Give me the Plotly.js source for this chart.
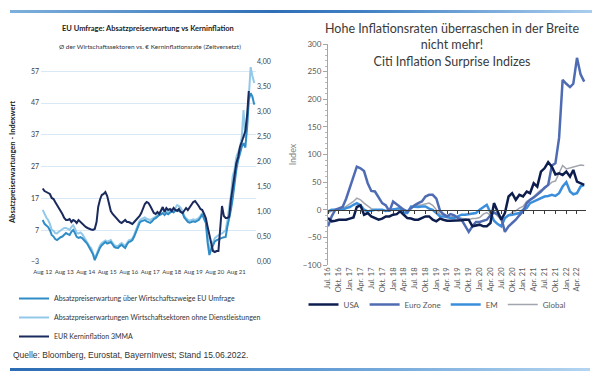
<!DOCTYPE html>
<html>
<head>
<meta charset="utf-8">
<script src="https://cdn.plot.ly/plotly-3.0.1.min.js"></script>
<style>
  html, body { margin:0; padding:0; background:#fff; }
  #wrap { position:relative; width:600px; height:378px; overflow:hidden; }
  #chart { position:absolute; left:0; top:0; width:600px; height:378px; }
  .bar { position:absolute; height:3px; pointer-events:none; }
</style>
</head>
<body>
<div id="wrap">
  <div id="chart"></div>
  <div class="bar" style="left:10px; top:10px; width:582px; background:linear-gradient(to right,#7fb0dc,#2f6fb6 45%,#3f7fc2 60%,#a9cdee);"></div>
  <div class="bar" style="left:10px; top:368px; width:580px; background:linear-gradient(to right,#2c6cb4,#5d98d2 50%,#b3d5f1);"></div>
</div>
<script>
// ---------- Left chart: EU Umfrage (monthly from Aug 2012) ----------
const leftStart = [2012, 8];
const umfrageAlle = [
  10.2, 9.0, 8.5, 8.0, 7.0, 5.5, 5.0, 4.2, 3.9, 4.5,
  4.8, 5.0, 5.6, 6.1, 5.8, 5.5, 6.5, 7.1, 6.0, 4.9,
  4.6, 4.8, 4.5, 4.0, 3.3, 2.6, 1.5, 0.8, -0.5, -2.4,
  -1.0, 0.1, 1.5, 2.3, 2.8, 3.3, 2.8, 3.0, 3.3, 2.5,
  1.7, 1.5, 1.4, 2.0, 2.4, 1.9, 1.4, 2.5, 3.3, 3.5,
  3.9, 5.0, 6.4, 8.0, 9.3, 9.8, 10.0, 10.2, 9.8, 9.5,
  9.3, 9.8, 10.5, 10.8, 11.3, 11.8, 12.0, 12.4, 11.8, 12.4,
  12.0, 12.6, 13.0, 12.6, 13.2, 13.4, 13.0, 12.7, 12.4, 11.0,
  10.2, 9.6, 9.4, 9.6, 9.8, 9.6, 9.8, 10.2, 11.0, 12.0,
  10.5, 9.3, 3.0, -0.8, 1.0, 2.3, 3.5, 3.9, 4.2, 4.5,
  4.6, 4.8, 4.9, 8.0, 10.5, 13.4, 17.0, 21.8, 26.0, 29.0,
  31.5, 33.2, 34.4, 33.0, 39.5, 48.0, 50.1, 49.0, 46.5
];
const umfrageOhneDL = [
  13.4, 12.0, 11.0, 10.2, 9.0, 7.1, 6.8, 6.1, 6.0, 6.5,
  7.0, 7.5, 7.7, 7.7, 7.4, 7.1, 8.0, 8.6, 7.5, 6.1,
  6.0, 6.3, 5.8, 5.0, 3.9, 3.0, 2.0, 1.4, 0.0, -2.0,
  -0.5, 0.8, 2.3, 3.0, 3.5, 3.8, 3.4, 3.6, 3.9, 3.0,
  2.3, 2.0, 2.0, 2.6, 3.0, 2.5, 2.0, 3.0, 3.8, 4.0,
  4.4, 5.6, 7.0, 8.6, 10.0, 10.5, 10.8, 11.0, 10.6, 10.4,
  10.2, 10.6, 11.0, 11.2, 11.6, 12.4, 13.0, 14.0, 12.8, 13.0,
  12.6, 13.4, 13.6, 13.2, 14.0, 14.9, 14.6, 14.0, 13.0, 11.5,
  10.8, 10.2, 10.0, 10.2, 10.4, 10.2, 10.4, 10.8, 11.5, 12.4,
  11.0, 10.0, 5.0, 0.8, 2.0, 3.5, 4.5, 5.0, 5.5, 5.8,
  6.0, 6.5, 7.0, 10.0, 13.5, 18.0, 24.0, 26.0, 30.0, 31.3,
  33.0, 36.3, 44.8, 36.0, 41.6, 49.0, 58.3, 55.5, 53.3
];
const kerninflation = [
  1.47, 1.42, 1.40, 1.38, 1.36, 1.28, 1.26, 1.20, 1.14, 1.10,
  1.02, 0.96, 0.88, 0.84, 0.84, 0.86, 0.80, 0.84, 0.82, 0.78,
  0.84, 0.80, 0.76, 0.72, 0.70, 0.68, 0.66, 0.65, 0.64, 0.66,
  0.80, 1.10, 1.25, 1.34, 1.36, 1.40, 1.32, 1.15, 1.02, 0.96,
  0.92, 0.88, 0.84, 0.80, 0.78, 0.82, 0.84, 0.80, 0.80, 0.78,
  0.76, 0.80, 0.84, 0.88, 0.92, 0.98, 1.06, 1.16, 1.20, 1.18,
  1.12, 1.04, 0.98, 0.96, 1.00, 0.96, 1.04, 1.10, 1.00, 1.08,
  1.04, 1.06, 1.02, 1.08, 1.04, 1.02, 1.06, 1.00, 0.98, 1.02,
  1.08, 1.04, 1.10, 1.16, 1.20, 1.22, 1.18, 1.12, 1.06, 1.04,
  0.96, 0.88, 0.70, 0.55, 0.35, 0.22, 0.20, 0.22, 0.22, 0.70,
  1.12, 0.92, 0.88, 0.88, 0.90, 1.25, 1.50, 1.82, 1.98, 2.10,
  2.30, 2.40, 2.52, 2.62, 2.95, 3.42
];
const leftTickLeft = [-3, 7, 17, 27, 37, 47, 57];
const leftTickRight = [0, 0.5, 1, 1.5, 2, 2.5, 3, 3.5, 4];

// ---------- Right chart: Citi Inflation Surprise (monthly from Jul 2016) ----------
const rightStart = [2016, 7];
const usa = [
  -15, -21, -20, -18, -18, -18, -16, -14, 5, 8,
  -9, -6, -12, -15, -18, -16, -12, -12, -9, -8,
  -3, -9, -15, -16, -18, -18, -15, -12, -12, -18,
  -21, -16, -18, -20, -20, -20, -20, -19, -18, -18,
  -30, -28, -27, -30, -30, -24, 12, -3, -18, -6,
  24, 30, 18, 27, 24, 33, 30, 48, 42, 69,
  75, 86, 78, 64, 66, 63, 69, 60, 72, 51, 48, 45
];
const euroZone = [
  -30, -12, 0, 2, 5, 20, 40, 58, 78, 75,
  70, 48, 34, 33, 22, 12, 8, -3, 15, 10,
  4, 0, -3, 3, 8, 12, 15, 24, 27, 27,
  20, -2, -8, -12, -8, -10, -15, -18, -30, -40,
  -30, -22, -22, -20, -18, -10, -5, -8, -15, -40,
  -30, -24, -18, -10, -3, 12, 18, 22, 27, 33,
  40, 45, 80, 84, 130, 235, 228, 222, 228, 275, 245, 232
];
const em = [
  -3, 0, 0, 0, 0, 3, 5, 9, 12, 8,
  0, -3, -1, 0, 0, 0, -2, -1, 0, 2,
  3, -6, -6, 6, 5, 5, 6, 6, 2, 0,
  -6, -12, -12, -14, -15, -15, -12, -9, -9, -8,
  -6, -6, 0, 5, 9, -5, -20, -26, -30, -15,
  -10, -9, -8, -6, 0, 3, 12, 15, 18, 22,
  24, 25, 27, 25, 30, 42, 50, 33, 28, 30, 42, 45
];
const globalIdx = [
  -5, -2, 0, 2, 3, 6, 10, 15, 21, 18,
  12, 6, 2, 0, -2, 0, -3, -2, 2, 2,
  0, -5, -6, 3, 6, 8, 9, 10, 12, 8,
  0, -8, -9, -12, -13, -12, -14, -15, -16, -18,
  -16, -16, -14, -8, -5, -10, -5, -12, -18, -16,
  -10, -5, -2, 3, 6, 15, 18, 24, 30, 36,
  38, 44, 50, 52, 66, 80, 74, 76, 78, 80, 81, 80
];
const rightTickVals = [
  '2016-07-01','2016-10-01','2017-01-01','2017-04-01','2017-07-01','2017-10-01',
  '2018-01-01','2018-04-01','2018-07-01','2018-10-01','2019-01-01','2019-04-01',
  '2019-07-01','2019-10-01','2020-01-01','2020-04-01','2020-07-01','2020-10-01',
  '2021-01-01','2021-04-01','2021-07-01','2021-10-01','2022-01-01','2022-04-01'
];
const rightTickText = [
  'Jul. 16','Okt. 16','Jan. 17','Apr. 17','Jul. 17','Okt. 17',
  'Jan. 18','Apr. 18','Jul. 18','Okt. 18','Jan. 19','Apr. 19',
  'Jul. 19','Okt. 19','Jan. 20','Apr. 20','Jul. 20','Okt. 20',
  'Jan. 21','Apr. 21','Jul. 21','Okt. 21','Jan. 22','Apr. 22'
];

function months(start, n) {
  const out = [];
  for (let i = 0; i < n; i++) {
    const t = start[0] * 12 + (start[1] - 1) + i;
    const y = Math.floor(t / 12), m = (t % 12) + 1;
    out.push(y + '-' + (m < 10 ? '0' : '') + m + '-01');
  }
  return out;
}

// pixel helpers for layout only
const W = 600, H = 378;
const px = v => v / W;
const py = v => 1 - v / H;

const lDom = [py(262), py(62)];
const rDom = [py(265), py(44)];
const rRange = [-100, 300];
const zeroPos = rDom[0] + (0 - rRange[0]) / (rRange[1] - rRange[0]) * (rDom[1] - rDom[0]);

const cMid = '#2f8cc6', cLight = '#93c9e8', cNavy = '#1b2a5c';
const cUSA = '#0d1d4e', cEZ = '#4f6cb3', cEM = '#3b8edb', cGL = '#a2a5ae';

const traces = [
  {x: months(leftStart, umfrageOhneDL.length), y: umfrageOhneDL, type:'scatter', mode:'lines',
   name:'Absatzpreiserwartungen Wirtschaftsektoren ohne Dienstleistungen', line:{color:cLight, width:2},
   xaxis:'x', yaxis:'y', legend:'legend', legendrank:2},
  {x: months(leftStart, umfrageAlle.length), y: umfrageAlle, type:'scatter', mode:'lines',
   name:'Absatzpreiserwartung über Wirtschaftszweige EU Umfrage', line:{color:cMid, width:2},
   xaxis:'x', yaxis:'y', legend:'legend', legendrank:1},
  {x: months(leftStart, kerninflation.length), y: kerninflation, type:'scatter', mode:'lines',
   name:'EUR Kerninflation 3MMA', line:{color:cNavy, width:2},
   xaxis:'x', yaxis:'y2', legend:'legend', legendrank:3},

  {x: months(rightStart, globalIdx.length), y: globalIdx, type:'scatter', mode:'lines',
   name:'Global', line:{color:cGL, width:1.5}, xaxis:'x2', yaxis:'y3', legend:'legend2', legendrank:4},
  {x: months(rightStart, em.length), y: em, type:'scatter', mode:'lines',
   name:'EM', line:{color:cEM, width:2.5}, xaxis:'x2', yaxis:'y3', legend:'legend2', legendrank:3},
  {x: months(rightStart, euroZone.length), y: euroZone, type:'scatter', mode:'lines',
   name:'Euro Zone', line:{color:cEZ, width:2.5}, xaxis:'x2', yaxis:'y3', legend:'legend2', legendrank:2},
  {x: months(rightStart, usa.length), y: usa, type:'scatter', mode:'lines',
   name:'USA', line:{color:cUSA, width:2.5}, xaxis:'x2', yaxis:'y3', legend:'legend2', legendrank:1},
  {x: [], y: [], type:'scatter', mode:'lines', xaxis:'x3', yaxis:'y3', showlegend:false, hoverinfo:'skip'}
];

const tickGray = '#404040';
const layout = {
  width: W, height: H,
  margin: {l:0, r:0, t:0, b:0},
  paper_bgcolor: '#fff', plot_bgcolor: 'rgba(0,0,0,0)',
  separators: ',.',
  font: {family: 'Lato, "Noto Sans", sans-serif', color: tickGray},
  title: {
    text: 'Hohe Inflationsraten überraschen in der Breite<br>nicht mehr!<br>Citi Inflation Surprise Indizes',
    font: {family: 'Lato, sans-serif', size: 12.5, color: '#3a3a3a'},
    x: px(452), xanchor: 'center', xref: 'paper',
    y: py(33), yanchor: 'top', yref: 'paper'
  },
  xaxis: {
    domain: [px(41), px(256)], anchor: 'y', type: 'date',
    range: ['2012-07-03', '2022-07-01'],
    tick0: '2012-08-01', dtick: 'M12', tickformat: '%b %y', tickangle: 0,
    ticklabelstandoff: 5,
    showgrid: false, zeroline: false, showline: false, ticks: '',
    tickfont: {size: 6, color: tickGray}
  },
  yaxis: {
    domain: lDom, anchor: 'x', range: [-3, 59.9],
    tickvals: leftTickLeft, showgrid: true, gridcolor: '#d8e8f4', gridwidth: 1,
    zeroline: false, showline: false, ticks: '', ticklabelstandoff: 1,
    tickfont: {size: 7, color: tickGray},
    title: {text: '<b>Absatzpreiserwartungen - Indexwert</b>', font: {size: 7.5, color: '#222'}, standoff: 14}
  },
  yaxis2: {
    overlaying: 'y', anchor: 'x', side: 'right', range: [0, 4],
    tickvals: leftTickRight, tickformat: '.2f',
    showgrid: false, zeroline: false, showline: false, ticks: '',
    tickfont: {size: 7, color: tickGray}
  },
  xaxis2: {
    domain: [px(328), px(586)], anchor: 'y3', type: 'date',
    range: ['2016-07-01', '2022-06-16'],
    tickvals: rightTickVals, ticktext: rightTickText, tickangle: -90,
    showgrid: false, zeroline: false, showline: false, ticks: '',
    tickfont: {size: 7.5, color: '#595959'}
  },
  xaxis3: {
    overlaying: 'x2', anchor: 'free', position: zeroPos, type: 'date',
    range: ['2016-07-01', '2022-06-16'],
    tick0: '2016-07-01', dtick: 'M3',
    showline: true, linecolor: '#3a3a3a', linewidth: 1,
    ticks: 'outside', ticklen: 3, tickcolor: '#3a3a3a',
    showticklabels: false, showgrid: false, zeroline: false
  },
  yaxis3: {
    domain: rDom, anchor: 'x2', range: rRange, dtick: 50,
    showgrid: false, zeroline: false,
    showline: true, linecolor: '#a6a6a6', linewidth: 1,
    ticks: 'outside', ticklen: 4, tickcolor: '#a6a6a6',
    minor: {dtick: 10, ticks: 'outside', ticklen: 2, tickcolor: '#b8b8b8'},
    tickfont: {size: 8, color: '#595959'},
    title: {text: 'Index', font: {size: 9, color: '#7f7f7f'}, standoff: 4}
  },
  legend: {
    x: px(14), xanchor: 'left', y: py(284), yanchor: 'top',
    orientation: 'v', bgcolor: 'rgba(0,0,0,0)', itemwidth: 30,
    font: {size: 7, color: '#333'}, tracegroupgap: 0
  },
  legend2: {
    x: px(437), xanchor: 'center', y: py(290), yanchor: 'top',
    orientation: 'h', bgcolor: 'rgba(0,0,0,0)', itemwidth: 30,
    font: {size: 8, color: '#595959'}
  },
  showlegend: true,
  annotations: [
    {text: '<b>EU Umfrage: Absatzpreiserwartung vs Kerninflation</b>', xref:'paper', yref:'paper',
     x: px(148), y: py(28), xanchor:'center', yanchor:'middle', showarrow:false,
     font:{size: 7.5, color:'#222'}},
    {text: 'Ø der Wirtschaftssektoren vs. € Kerninflationsrate (Zeitversetzt)', xref:'paper', yref:'paper',
     x: px(150), y: py(47), xanchor:'center', yanchor:'middle', showarrow:false,
     font:{size: 6.5, color:'#333'}},
    {text: 'Quelle: Bloomberg, Eurostat, BayernInvest; Stand 15.06.2022.', xref:'paper', yref:'paper',
     x: px(11), y: py(355), xanchor:'left', yanchor:'middle', showarrow:false,
     font:{family:'"Liberation Sans", Arial, sans-serif', size: 8.5, color:'#333'}}
  ]
};

Plotly.newPlot('chart', traces, layout, {displayModeBar:false, staticPlot:true});
</script>
</body>
</html>
